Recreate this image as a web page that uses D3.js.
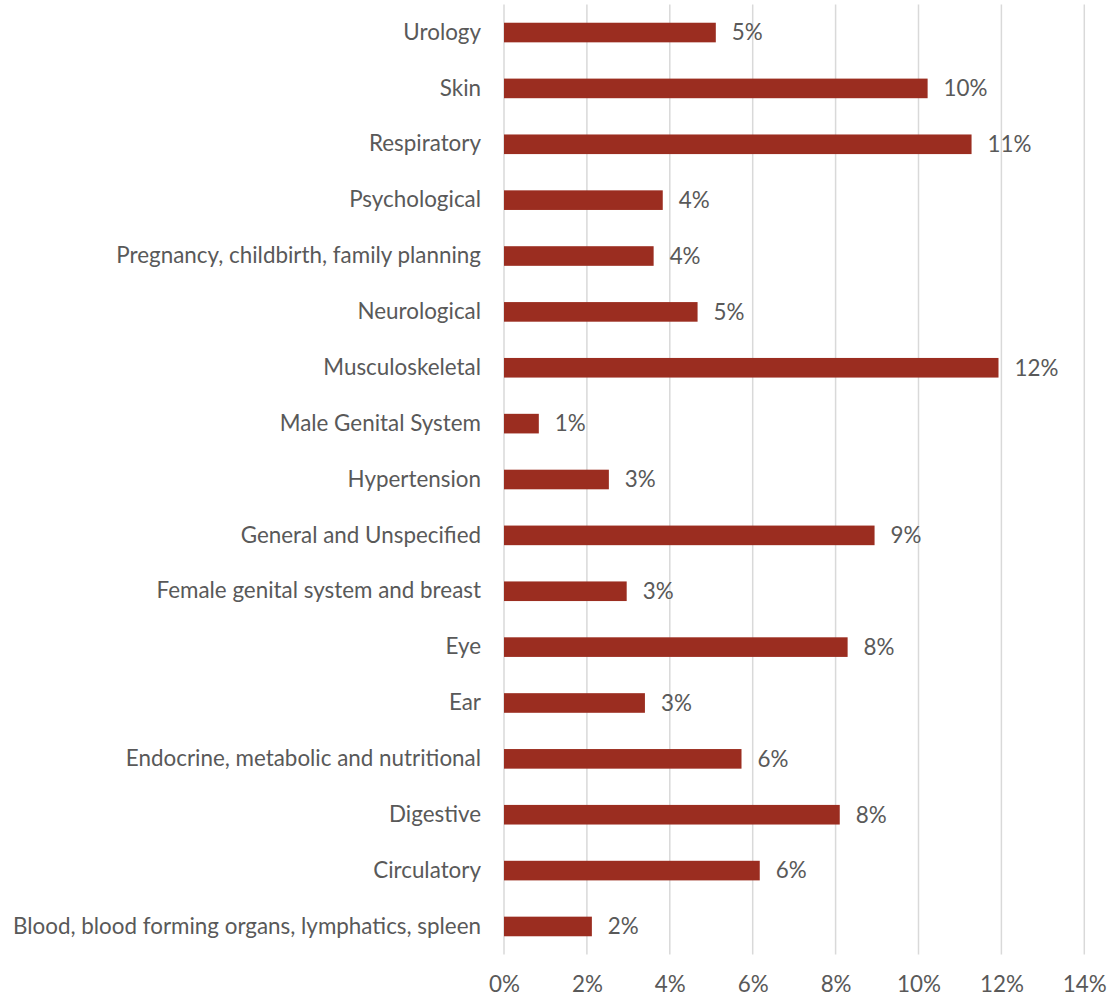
<!DOCTYPE html>
<html>
<head>
<meta charset="utf-8">
<script src="https://cdn.jsdelivr.net/npm/d3@7"></script>
<style>
  html, body { margin: 0; padding: 0; background: #fff; }
  svg text { font-family: Lato, "Open Sans", sans-serif; fill: #595959; }
</style>
</head>
<body>
<svg id="chart" width="1111" height="998"></svg>
<script>
// Categories, listed top to bottom as drawn
const categories = [
  "Urology",
  "Skin",
  "Respiratory",
  "Psychological",
  "Pregnancy, childbirth, family planning",
  "Neurological",
  "Musculoskeletal",
  "Male Genital System",
  "Hypertension",
  "General and Unspecified",
  "Female genital system and breast",
  "Eye",
  "Ear",
  "Endocrine, metabolic and nutritional",
  "Digestive",
  "Circulatory",
  "Blood, blood forming organs, lymphatics, spleen"
];

// Share of consultations per category
const shares = [
  0.0511, 0.1022, 0.1128, 0.0383, 0.0361, 0.0467, 0.1193, 0.0084,
  0.0253, 0.0894, 0.0296, 0.0829, 0.0340, 0.0573, 0.0810, 0.0617, 0.0212
];

const xTicks = [0, 0.02, 0.04, 0.06, 0.08, 0.10, 0.12, 0.14];

const data = categories.map((c, i) => ({ name: c, value: shares[i] }));

const svg = d3.select("#chart");
const plotLeft = 504, plotRight = 1084.3, plotTop = 4.6, plotBottom = 954.4;
const fontSize = "22.4px";

const x = d3.scaleLinear().domain([0, 0.14]).range([plotLeft, plotRight]);
const y = d3.scaleBand()
  .domain(categories)
  .range([plotTop, plotBottom])
  .paddingInner(0.649)
  .paddingOuter(0.3245);

const pct = d3.format(".0%");

// vertical gridlines
svg.append("g")
  .selectAll("line")
  .data(xTicks)
  .join("line")
  .attr("x1", d => x(d)).attr("x2", d => x(d))
  .attr("y1", plotTop).attr("y2", plotBottom)
  .attr("stroke", "#d9d9d9")
  .attr("stroke-width", 1.5);

// x axis labels
const xAxis = d3.axisBottom(x).tickValues(xTicks).tickFormat(pct).tickSize(0).tickPadding(0);
const gx = svg.append("g").attr("transform", `translate(0, ${plotBottom})`).call(xAxis);
gx.select(".domain").remove();
gx.selectAll("text")
  .attr("y", 30)
  .attr("dy", "0.35em")
  .style("font-size", fontSize)
  .style("font-family", "Lato, sans-serif")
  .attr("fill", "#595959");

// y axis labels
const yAxis = d3.axisLeft(y).tickSize(0).tickPadding(0);
const gy = svg.append("g").attr("transform", `translate(481, 0)`).call(yAxis);
gy.select(".domain").remove();
gy.selectAll("text")
  .style("font-size", fontSize)
  .style("font-family", "Lato, sans-serif")
  .attr("fill", "#595959");

// bars
svg.append("g")
  .selectAll("rect")
  .data(data)
  .join("rect")
  .attr("x", x(0))
  .attr("y", d => y(d.name))
  .attr("width", d => x(d.value) - x(0))
  .attr("height", y.bandwidth())
  .attr("fill", "#9b2d20");

// value labels
svg.append("g")
  .selectAll("text")
  .data(data)
  .join("text")
  .attr("x", d => x(d.value) + 16)
  .attr("y", d => y(d.name) + y.bandwidth() / 2)
  .attr("dy", "0.35em")
  .style("font-size", fontSize)
  .text(d => pct(d.value));
</script>
</body>
</html>
